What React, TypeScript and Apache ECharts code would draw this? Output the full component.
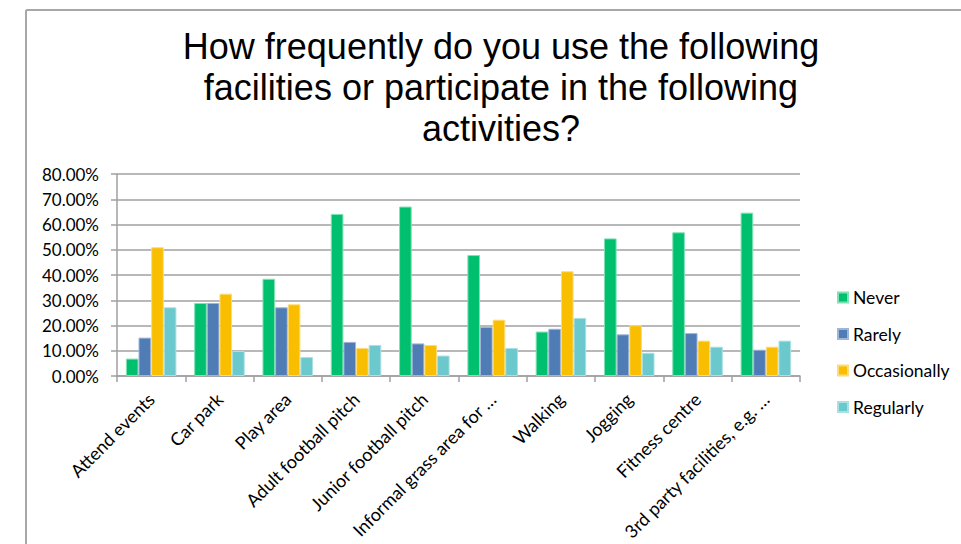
import React, { useEffect, useRef } from "react";
import * as echarts from "echarts";

const titleLines = [
  "How frequently do you use the following",
  "facilities or participate in the following",
  "activities?",
];

const categories = [
  "Attend events",
  "Car park",
  "Play area",
  "Adult football pitch",
  "Junior football pitch",
  "Informal grass area for …",
  "Walking",
  "Jogging",
  "Fitness centre",
  "3rd party facilities, e.g. …",
];

const seriesNames = ["Never", "Rarely", "Occasionally", "Regularly"];

const never = [6.9, 28.9, 38.5, 64.2, 67.1, 47.9, 17.6, 54.5, 56.9, 64.7];
const rarely = [15.2, 28.9, 27.2, 13.5, 12.9, 19.4, 18.7, 16.5, 17.0, 10.4];
const occasionally = [51.0, 32.6, 28.4, 11.1, 12.3, 22.3, 41.5, 20.1, 14.0, 11.6];
const regularly = [27.2, 9.9, 7.5, 12.3, 8.1, 11.1, 23.0, 9.2, 11.6, 14.0];

const seriesData = [never, rarely, occasionally, regularly];
const colors = ["#00BF6F", "#507CB6", "#F9BE00", "#6BC8CD"];
const borderColors = ["#7fe2b4", "#9db6d8", "#fcdc7a", "#a9e0e3"];

const yMin = 0;
const yMax = 80;
const yInterval = 10;

export default function App() {
  const ref = useRef<HTMLDivElement>(null);
  useEffect(() => {
    if (!ref.current) return;
    const chart = echarts.init(ref.current, undefined, { renderer: "svg" });
    const font = "Lato";
    chart.setOption({
      animation: false,
      backgroundColor: "#ffffff",
      title: {
        text: titleLines.join("\n"),
        left: 496,
        textAlign: "center",
        top: 21,
        textStyle: {
          fontFamily: "Liberation Sans",
          fontSize: 36,
          fontWeight: "normal",
          color: "#000000",
          lineHeight: 41,
        },
      },
      legend: {
        orient: "vertical",
        left: 832,
        top: 283,
        itemWidth: 10,
        itemHeight: 10,
        itemGap: 17.5,
        icon: "rect",
        data: seriesNames,
        textStyle: {
          fontFamily: font,
          fontSize: 17.5,
          color: "#000000",
          lineHeight: 19,
        },
      },
      grid: {
        left: 117,
        right: 161,
        top: 174,
        bottom: 168,
        containLabel: false,
      },
      xAxis: {
        type: "category",
        data: categories,
        axisLine: { lineStyle: { color: "#a0a0a0", width: 1.5 } },
        axisTick: { show: true, length: 6, lineStyle: { color: "#a0a0a0", width: 1.5 } },
        axisLabel: {
          rotate: 45,
          interval: 0,
          margin: 20,
          fontFamily: font,
          fontSize: 18,
          color: "#000000",
        },
      },
      yAxis: {
        type: "value",
        min: yMin,
        max: yMax,
        interval: yInterval,
        axisLine: { show: true, lineStyle: { color: "#a0a0a0", width: 1.5 } },
        axisTick: { show: true, length: 6, lineStyle: { color: "#a0a0a0", width: 1.5 } },
        splitLine: { lineStyle: { color: "#a0a0a0", width: 1.5 } },
        axisLabel: {
          margin: 18,
          fontFamily: font,
          fontSize: 17,
          color: "#000000",
          formatter: (v: number) => v.toFixed(2) + "%",
        },
      },
      series: seriesNames.map((name, i) => ({
        name,
        type: "bar",
        data: seriesData[i],
        barGap: "0%",
        barCategoryGap: "26%",
        itemStyle: {
          color: colors[i],
          borderColor: borderColors[i],
          borderWidth: 1,
        },
      })),
      graphic: [
        {
          type: "line",
          shape: { x1: 26, y1: 10, x2: 961, y2: 10 },
          style: { stroke: "#a8a8a8", lineWidth: 2 },
        },
        {
          type: "line",
          shape: { x1: 26, y1: 10, x2: 26, y2: 544 },
          style: { stroke: "#a8a8a8", lineWidth: 2 },
        },
      ],
    });
    return () => chart.dispose();
  }, []);
  return <div ref={ref} style={{ width: 961, height: 544, position: "absolute", left: 0, top: 0 }} />;
}
